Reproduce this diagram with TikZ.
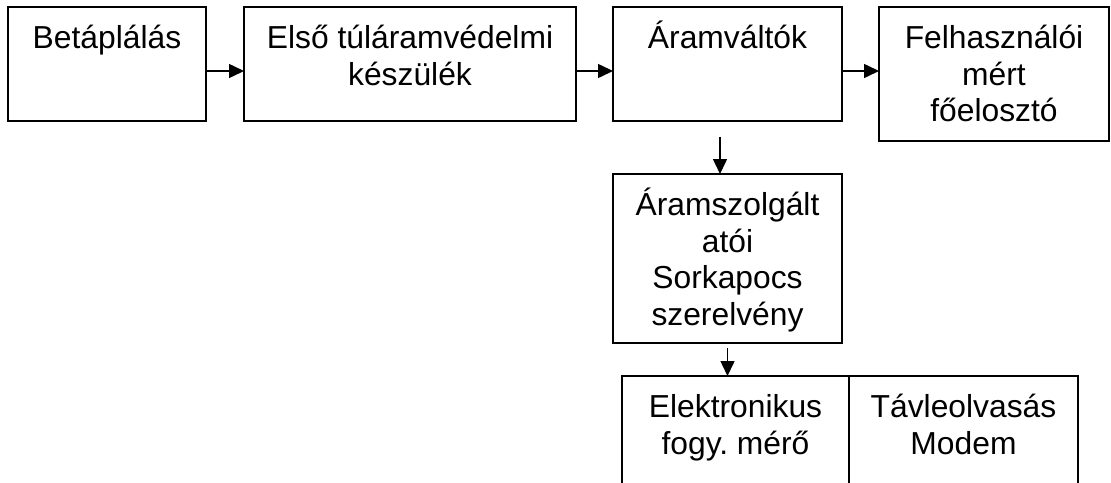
\documentclass[tikz,border=0pt]{standalone}
\usepackage{fontspec}
\setmainfont{Liberation Sans}
\usetikzlibrary{positioning, arrows.meta}

% fixed first-line height, so every text hangs the same way
\newcommand{\elsosor}{\rule{0pt}{15pt}}

\begin{document}
\begin{tikzpicture}[
  x=0.5pt, y=-0.5pt,
  box/.style={
    draw=black, line width=1pt,
    inner sep=0pt, outer sep=0pt
  },
  boxtext/.style={
    font=\fontsize{15.9}{18.35}\selectfont, align=center,
    inner sep=0pt
  },
  flow/.style={
    -{Triangle[length=7.5pt, width=7pt]}, line width=0.75pt
  },
]
\useasboundingbox (0,0) rectangle (1111,482);
\clip (0,0) rectangle (1111,482);

% Top row
\node[box, minimum width=99pt,  minimum height=57pt] (b1) at (107, 64)   {};
\node[box, minimum width=166pt, minimum height=57pt] (b2) at (410, 64)   {};
\node[box, minimum width=114.5pt, minimum height=57pt] (b3) at (727.5, 64) {};
\node[box, minimum width=115pt, minimum height=67pt] (b4) at (994, 74)   {};

% Middle box
\node[box, minimum width=114.5pt, minimum height=84.5pt] (b5) at (727.5, 258.5) {};

% Bottom pair, cut by the page edge
\node[box, minimum width=113.5pt, minimum height=72pt] (b6) at (735.5, 448) {};
\node[box, minimum width=114.5pt, minimum height=72pt] (b7) at (963.5, 448) {};

% Texts hang from the top edge of each box
\node[boxtext, below=5.5pt of b1.north] (t1) {\elsosor Betáplálás};
\node[boxtext, below=5.5pt of b2.north] (t2) {\elsosor Első túláramvédelmi\\készülék};
\node[boxtext, below=5.5pt of b3.north] (t3) {\elsosor Áramváltók};
\node[boxtext, below=5.5pt of b4.north] (t4) {\elsosor Felhasználói\\mért\\főelosztó};
\node[boxtext, below=5.5pt of b5.north] (t5) {\elsosor Áramszolgált\\atói\\Sorkapocs\\szerelvény};
\node[boxtext, below=5.5pt of b6.north] (t6) {\elsosor Elektronikus\\fogy.\ mérő};
\node[boxtext, below=5.5pt of b7.north] (t7) {\elsosor Távleolvasás\\Modem};

% Connectors
\draw[flow] ([yshift=-3.5pt]b1.east) -- ([yshift=-3.5pt]b1.east -| b2.west);
\draw[flow] ([yshift=-3.5pt]b2.east) -- ([yshift=-3.5pt]b2.east -| b3.west);
\draw[flow] ([yshift=-3.5pt]b3.east) -- ([yshift=-3.5pt]b3.east -| b4.west);
\draw[flow, shorten <=7.8pt] ([xshift=-3.75pt]b3.south) -- ([xshift=-3.75pt]b3.south |- b5.north);
\draw[flow, shorten <=2.5pt] (b5.south) -- (b5.south |- b6.north);

\end{tikzpicture}
\end{document}
